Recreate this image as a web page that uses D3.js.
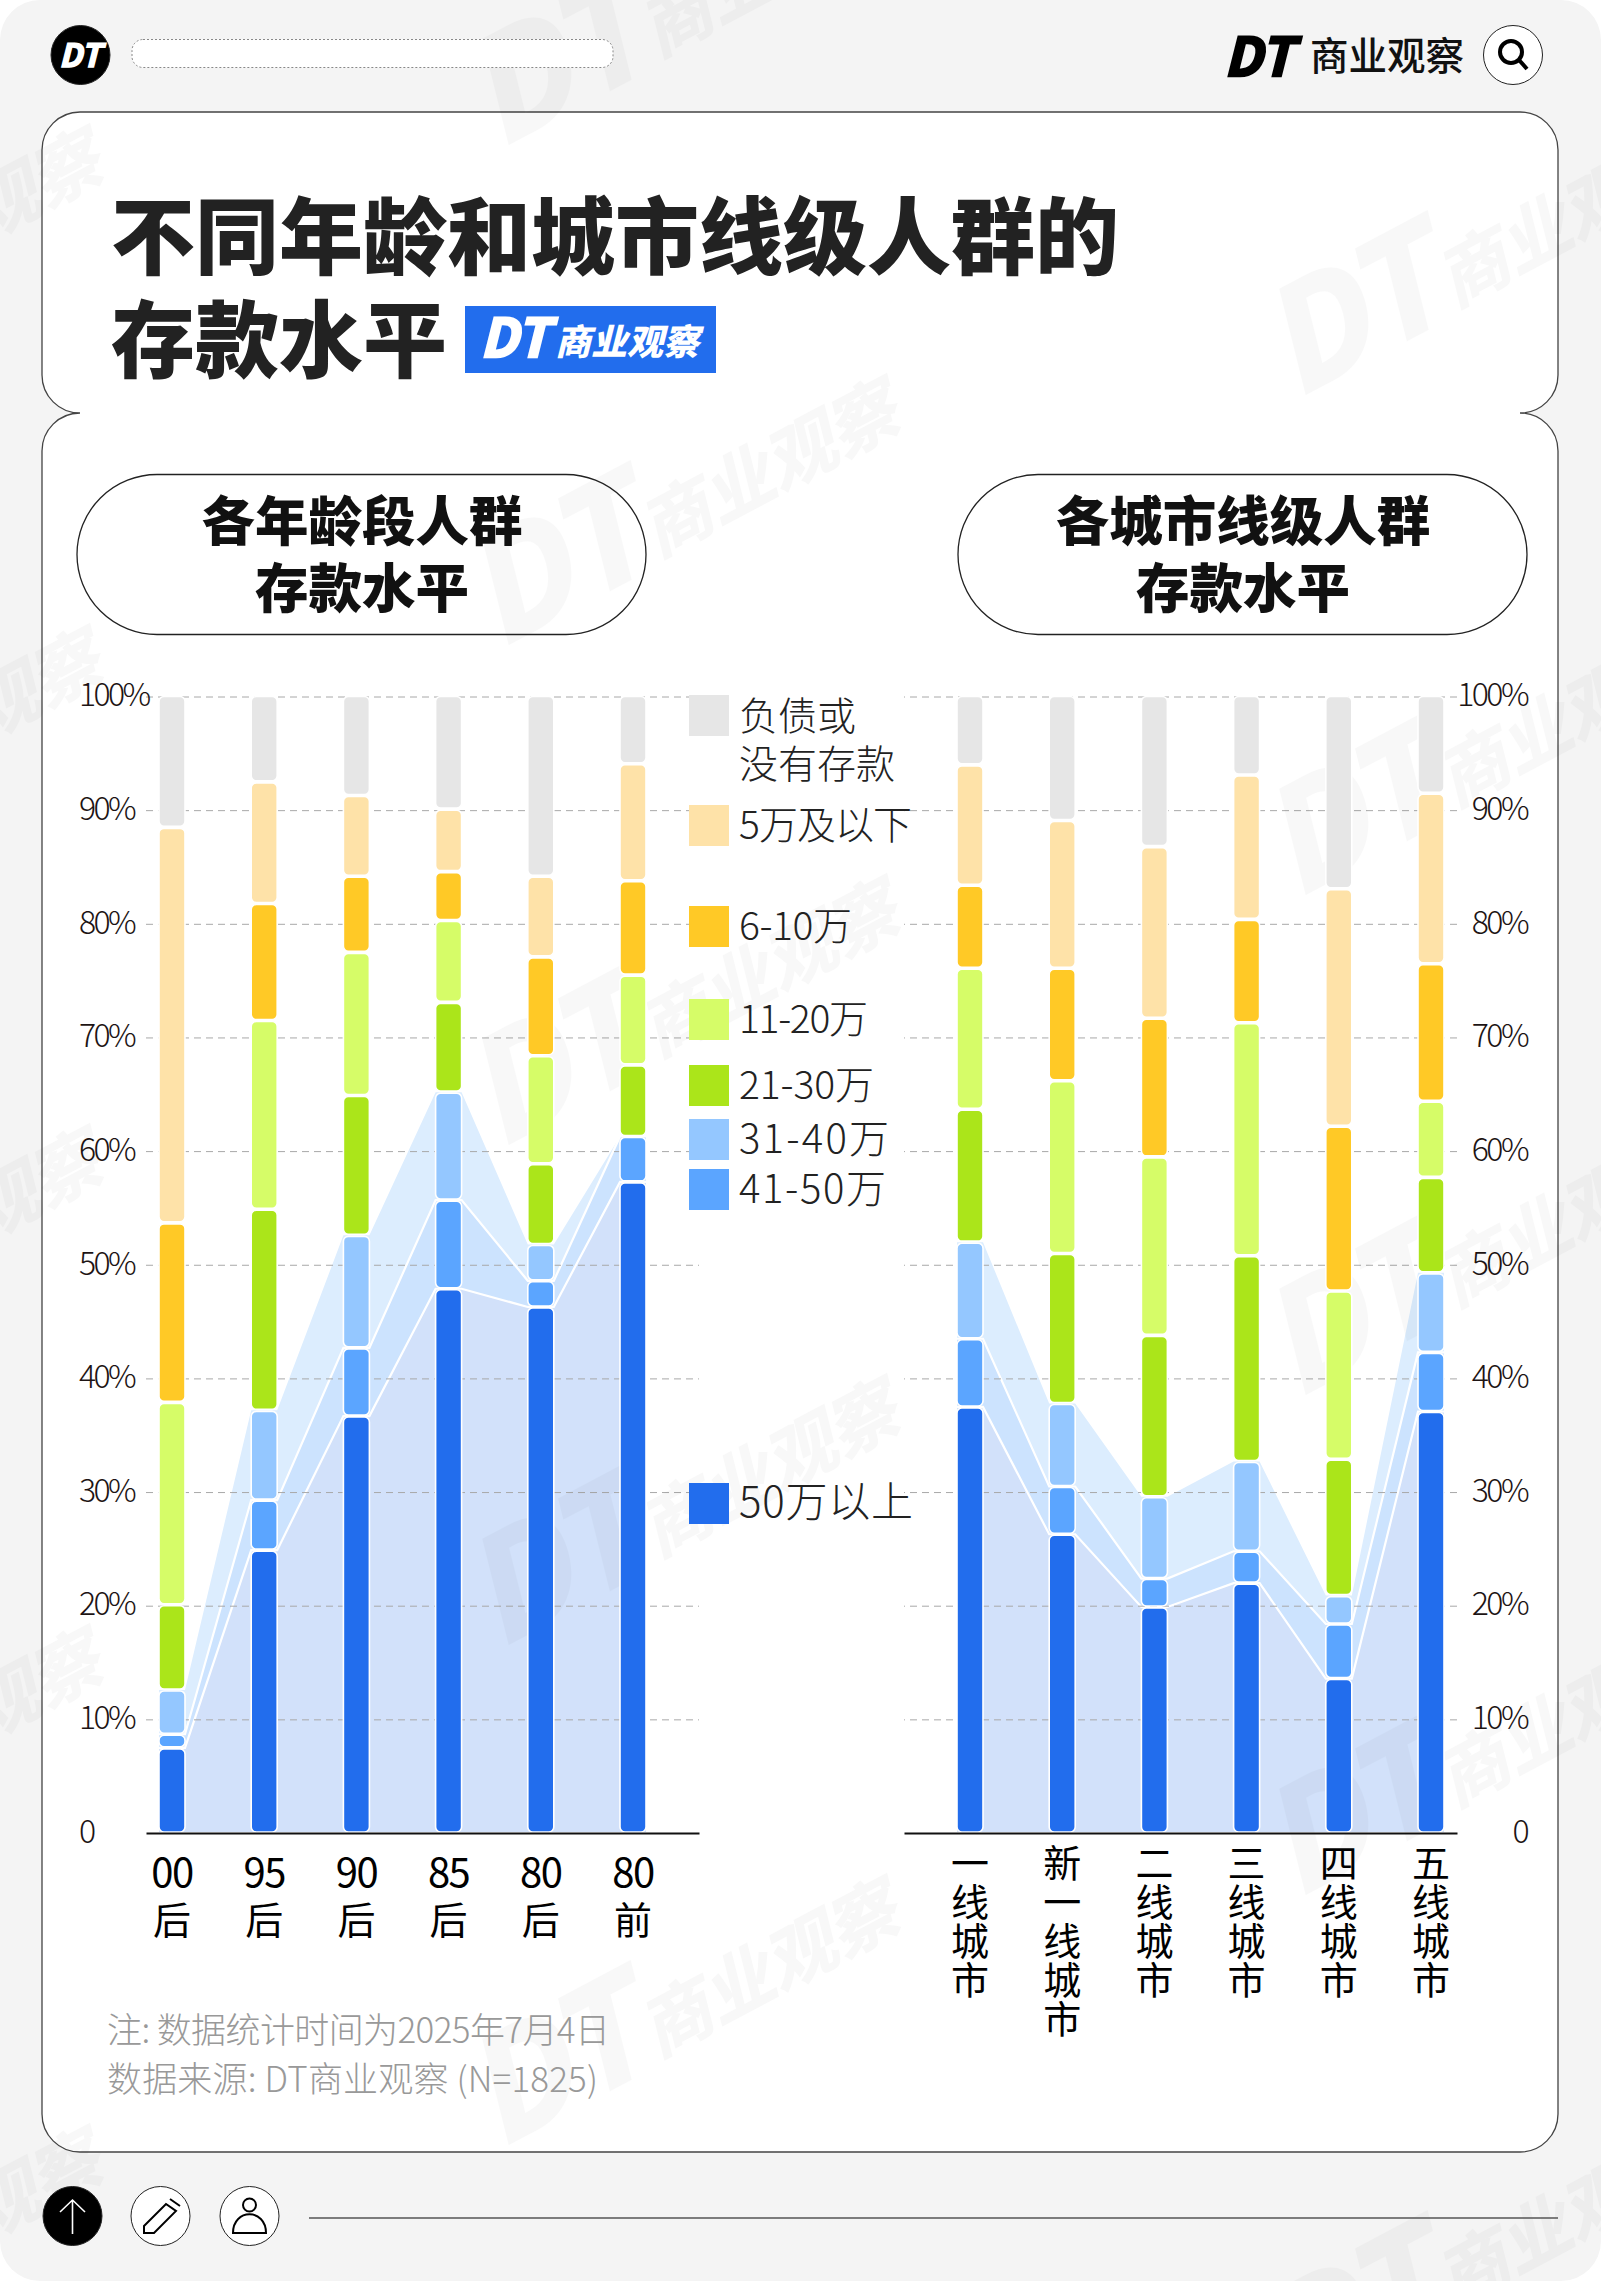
<!DOCTYPE html>
<html>
<head>
<meta charset="utf-8">
<script src="https://cdn.jsdelivr.net/npm/d3@7"></script>
<style>
  html, body { margin: 0; padding: 0; background: #fff; }
  svg { display: block; }
  text { font-family: "Noto Sans CJK SC", "Noto Sans", sans-serif; }
</style>
</head>
<body>
<svg id="chart" width="1601" height="2281"></svg>
<script>
// categories
var ageGroups = ["00后", "95后", "90后", "85后", "80后", "80前"];
var cityTiers = ["一线城市", "新一线城市", "二线城市", "三线城市", "四线城市", "五线城市"];
var seriesNames = ["50万以上", "41-50万", "31-40万", "21-30万", "11-20万", "6-10万", "5万及以下", "负债或没有存款"];

// share by age group, one list per saving level, % of people
var age50Up = [7.4, 24.8, 36.6, 47.8, 46.2, 57.2];
var age41to50 = [1.2, 4.4, 6.0, 7.8, 2.3, 4.0];
var age31to40 = [3.9, 7.9, 9.9, 9.5, 3.2, 0];
var age21to30 = [7.5, 17.7, 12.3, 7.9, 7.1, 6.3];
var age11to20 = [17.8, 16.6, 12.6, 7.2, 9.5, 7.9];
var age6to10 = [15.8, 10.3, 6.7, 4.3, 8.7, 8.3];
var age5Down = [34.8, 10.7, 7.1, 5.5, 7.1, 10.3];
var ageNone = [11.6, 7.6, 8.8, 10.0, 15.9, 6.0];

// share by city tier
var city50Up = [37.4, 26.2, 19.8, 21.9, 13.5, 37.0];
var city41to50 = [6.0, 4.2, 2.5, 2.8, 4.8, 5.2];
var city31to40 = [8.5, 7.3, 7.2, 7.9, 2.5, 7.0];
var city21to30 = [11.7, 13.2, 14.2, 18.1, 12.0, 8.4];
var city11to20 = [12.4, 15.2, 15.7, 20.5, 14.8, 6.7];
var city6to10 = [7.3, 9.9, 12.2, 9.1, 14.5, 12.1];
var city5Down = [10.6, 13.0, 15.1, 12.7, 20.9, 15.0];
var cityNone = [6.1, 11.0, 13.3, 7.0, 17.0, 8.6];

var yTicks = [0, 10, 20, 30, 40, 50, 60, 70, 80, 90, 100];

var seriesColors = ["#226ded", "#5ba5ff", "#94c7ff", "#abe51a", "#d6fc68", "#ffc926", "#fee2a8", "#e6e6e6"];
var areaColors = ["#d2e1fa", "#cce3fe", "#dcedfe"];

var CJK = '"Noto Sans CJK SC", "Noto Sans", sans-serif';
var LOGO = '"Liberation Sans", Arial, sans-serif';

var svg = d3.select("#chart");

// page + card
svg.append("rect").attr("width", 1601).attr("height", 2281).attr("rx", 40).attr("fill", "#f4f4f4");
svg.append("path")
  .attr("d", "M80,112 H1520 A38,38 0 0 1 1558,150 V375 A38,38 0 0 1 1520,413 A38,38 0 0 1 1558,451 V2114 A38,38 0 0 1 1520,2152 H80 A38,38 0 0 1 42,2114 V451 A38,38 0 0 1 80,413 A38,38 0 0 1 42,375 V150 A38,38 0 0 1 80,112 Z")
  .attr("fill", "#fff").attr("stroke", "#444").attr("stroke-width", 1.3);

var areaLayer = svg.append("g").attr("transform", "translate(0,-1)");
var gridLayer = svg.append("g");
var markLayer = svg.append("g").attr("class", "watermark");
var barLayer = svg.append("g");

function watermark(x, y) {
  var g = markLayer.append("g").attr("transform", "translate(" + x + "," + y + ") rotate(-28)")
    .attr("fill", "#000").attr("stroke", "#000").attr("opacity", 0.022);
  g.append("text").text("DT").attr("font-family", LOGO).attr("font-weight", 700)
    .attr("font-style", "italic").attr("font-size", 138).attr("stroke-width", 4);
  g.append("text").text("商业观察").attr("x", 182).attr("y", -6).attr("font-weight", 700)
    .attr("font-style", "italic").attr("font-size", 70).attr("stroke-width", 1);
}
d3.range(-1, 3).forEach(function(col) {
  var x0 = 499 + col * 797;
  var y0 = (col % 2 === 0) ? 648 : 398;
  d3.range(-2, 5).forEach(function(row) {
    var wy = y0 + row * 500;
    // skip the ones that fall wholly outside the page
    if (x0 + 440 < 0 || x0 > 1601 || wy + 30 < 0 || wy - 260 > 2281) return;
    watermark(x0, wy);
  });
});

// top bar
function circleBtn(cx, cy, fill) {
  svg.append("circle").attr("cx", cx).attr("cy", cy).attr("r", 29.5)
    .attr("fill", fill).attr("stroke", "#222").attr("stroke-width", 1);
}
circleBtn(80.5, 55, "#000");
svg.append("text").text("DT").attr("x", 80).attr("y", 67).attr("text-anchor", "middle")
  .attr("font-family", LOGO).attr("font-weight", 700).attr("font-style", "italic")
  .attr("font-size", 32).attr("fill", "#fff").attr("stroke", "#fff").attr("stroke-width", 1.5);
svg.append("rect").attr("x", 132).attr("y", 39.5).attr("width", 481).attr("height", 28).attr("rx", 11)
  .attr("fill", "#fff").attr("stroke", "#888").attr("stroke-width", 1).attr("stroke-dasharray", "2 2");
svg.append("text").text("DT").attr("x", 1224).attr("y", 76)
  .attr("font-family", LOGO).attr("font-weight", 700).attr("font-style", "italic")
  .attr("font-size", 53).attr("fill", "#000").attr("stroke", "#000").attr("stroke-width", 2.5);
svg.append("text").text("商业观察").attr("x", 1310).attr("y", 70)
  .attr("font-size", 38.5).attr("font-weight", 500).attr("fill", "#111");
circleBtn(1513, 55, "#fff");
svg.append("circle").attr("cx", 1511).attr("cy", 52).attr("r", 11).attr("fill", "none")
  .attr("stroke", "#000").attr("stroke-width", 4);
svg.append("line").attr("x1", 1519).attr("y1", 60).attr("x2", 1527).attr("y2", 69)
  .attr("stroke", "#000").attr("stroke-width", 4);

// title
svg.append("text").text("不同年龄和城市线级人群的").attr("x", 111).attr("y", 268)
  .attr("font-size", 84).attr("font-weight", 900).attr("fill", "#222");
svg.append("text").text("存款水平").attr("x", 111).attr("y", 371)
  .attr("font-size", 84).attr("font-weight", 900).attr("fill", "#222");
svg.append("rect").attr("x", 465).attr("y", 306).attr("width", 251).attr("height", 67).attr("fill", "#226ded");
svg.append("text").text("DT").attr("x", 480).attr("y", 357)
  .attr("font-family", LOGO).attr("font-weight", 700).attr("font-style", "italic")
  .attr("font-size", 53).attr("fill", "#fff").attr("stroke", "#fff").attr("stroke-width", 2.5);
svg.append("text").text("商业观察").attr("x", 555).attr("y", 355)
  .attr("font-size", 36).attr("font-weight", 900).attr("font-style", "italic").attr("fill", "#fff");

// panel headers
function pill(x, line1, line2) {
  svg.append("rect").attr("x", x).attr("y", 474.5).attr("width", 569).attr("height", 160).attr("rx", 80)
    .attr("fill", "none").attr("stroke", "#222").attr("stroke-width", 1.3);
  var cx = x + 285;
  svg.append("text").text(line1).attr("x", cx).attr("y", 541).attr("text-anchor", "middle")
    .attr("font-size", 53.5).attr("font-weight", 900).attr("fill", "#111");
  svg.append("text").text(line2).attr("x", cx).attr("y", 608).attr("text-anchor", "middle")
    .attr("font-size", 53.5).attr("font-weight", 900).attr("fill", "#111");
}
pill(77, "各年龄段人群", "存款水平");
pill(958, "各城市线级人群", "存款水平");

var y = d3.scaleLinear().domain([0, 100]).range([1833, 696.5]);
var barWidth = 26;

function tickText(d) { return d === 0 ? "0" : d + "%"; }

function drawPanel(opts) {
  var x = d3.scalePoint().domain(opts.categories).range(opts.centers);

  // gridlines and tick labels through the y axis
  var axisY = opts.labelsRight ? d3.axisRight(y) : d3.axisLeft(y);
  var gridLen = opts.axisRange[1] - opts.axisRange[0];
  axisY.tickValues(yTicks).tickFormat(tickText).tickSize(-gridLen);
  var gY = gridLayer.append("g")
    .attr("transform", "translate(" + (opts.labelsRight ? opts.axisRange[1] : opts.axisRange[0]) + ",0)")
    .call(axisY);
  gY.select(".domain").remove();
  gY.selectAll(".tick line").attr("stroke", "#a8a8a8").attr("stroke-width", 1).attr("stroke-dasharray", "7 5")
    .filter(function(d) { return d === 0; }).remove();
  gY.selectAll(".tick text")
    .attr("font-family", CJK).attr("font-size", 32).attr("font-weight", 300).attr("fill", "#1d1414")
    .attr("letter-spacing", -2.6).attr("dy", "0.29em")
    .attr("text-anchor", opts.labelsRight ? "end" : "start")
    .attr("x", opts.labelsRight ? 1527 - opts.axisRange[1] : 79 - opts.axisRange[0]);

  // stack the levels
  var table = opts.categories.map(function(c, i) {
    var row = { category: c };
    seriesNames.forEach(function(name, k) { row[name] = opts.values[k][i]; });
    return row;
  });
  var stacked = d3.stack().keys(seriesNames)(table);

  // bands run flat across a bar and straight from bar edge to bar edge
  function edgePoints(s) {
    return s.reduce(function(pts, d) {
      var cx = x(d.data.category);
      pts.push({ x: cx - barWidth / 2, y0: d[0], y1: d[1] });
      pts.push({ x: cx + barWidth / 2, y0: d[0], y1: d[1] });
      return pts;
    }, []);
  }
  var band = d3.area()
    .x(function(p) { return p.x; })
    .y0(function(p) { return y(p.y0); })
    .y1(function(p) { return y(p.y1); });
  var topLine = d3.line()
    .x(function(p) { return p.x; })
    .y(function(p) { return y(p.y1); });
  stacked.slice(0, 3).forEach(function(s, k) {
    areaLayer.append("path").attr("d", band(edgePoints(s))).attr("fill", areaColors[k]);
  });
  stacked.slice(0, 2).forEach(function(s) {
    areaLayer.append("path").attr("d", topLine(edgePoints(s))).attr("fill", "none")
      .attr("stroke", "#fff").attr("stroke-width", 2.2);
  });

  // bars
  stacked.forEach(function(s, k) {
    barLayer.append("g").selectAll("rect").data(s).join("rect")
      .filter(function(d) { return d[1] > d[0]; })
      .attr("x", function(d) { return x(d.data.category) - barWidth / 2; })
      .attr("y", function(d) { return y(d[1]); })
      .attr("width", barWidth)
      .attr("height", function(d) { return Math.max(y(d[0]) - y(d[1]) - (k === 0 ? 1 : 2), 1); })
      .attr("rx", 5)
      .attr("fill", seriesColors[k])
      .attr("stroke", "#fff").attr("stroke-width", 1.6);
  });

  // x axis
  var baseScale = d3.scaleLinear().domain(opts.axisRange).range(opts.axisRange);
  var gX = gridLayer.append("g").attr("transform", "translate(0,1833)")
    .call(d3.axisBottom(baseScale).tickValues([]).tickSizeOuter(0));
  gX.select(".domain").attr("stroke", "#111").attr("stroke-width", 2.2);
  svg.node().appendChild(gX.node());

  // category labels
  opts.categories.forEach(function(c) { opts.drawLabel(c, x(c)); });
}

function ageLabel(c, cx) {
  svg.append("text").text(c.slice(0, 2)).attr("x", cx).attr("y", 1887).attr("text-anchor", "middle")
    .attr("font-size", 40).attr("letter-spacing", -1.5).attr("fill", "#000");
  svg.append("text").text(c.slice(2)).attr("x", cx).attr("y", 1934).attr("text-anchor", "middle")
    .attr("font-size", 38).attr("fill", "#000");
}

function cityLabel(c, cx) {
  c.split("").forEach(function(ch, i) {
    svg.append("text").text(ch).attr("x", cx).attr("y", 1877 + i * 39).attr("text-anchor", "middle")
      .attr("font-size", 38).attr("fill", "#000");
  });
}

drawPanel({
  categories: ageGroups,
  values: [age50Up, age41to50, age31to40, age21to30, age11to20, age6to10, age5Down, ageNone],
  centers: [172, 633],
  axisRange: [146, 699],
  labelsRight: false,
  drawLabel: ageLabel
});

drawPanel({
  categories: cityTiers,
  values: [city50Up, city41to50, city31to40, city21to30, city11to20, city6to10, city5Down, cityNone],
  centers: [970, 1431],
  axisRange: [904, 1457],
  labelsRight: true,
  drawLabel: cityLabel
});

// legend, top to bottom
var legendTops = [695, 805, 906, 999, 1065, 1119, 1169, 1483];
var legendTextWidths = [0, 173, 113, 129, 135, 150, 147, 174];
var legendFontSizes = [39, 39, 39, 39, 39, 40, 40, 42];
var legendOrder = d3.range(seriesNames.length).reverse();
legendOrder.forEach(function(k, i) {
  var top = legendTops[i];
  svg.append("rect").attr("x", 689).attr("y", top).attr("width", 40).attr("height", 41)
    .attr("fill", seriesColors[k]);
  var name = seriesNames[k];
  if (name === "负债或没有存款") {
    svg.append("text").text("负债或").attr("x", 739).attr("y", 730)
      .attr("font-size", 39).attr("font-weight", 300).attr("fill", "#222");
    svg.append("text").text("没有存款").attr("x", 739).attr("y", 778)
      .attr("font-size", 39).attr("font-weight", 300).attr("fill", "#222");
  } else {
    svg.append("text").text(name).attr("x", 739).attr("y", top + 34)
      .attr("textLength", legendTextWidths[i]).attr("lengthAdjust", "spacing")
      .attr("font-size", legendFontSizes[i]).attr("font-weight", 300).attr("fill", "#222");
  }
});

// footnote
svg.append("text").text("注: 数据统计时间为2025年7月4日").attr("x", 107).attr("y", 2043)
  .attr("textLength", 503).attr("lengthAdjust", "spacing")
  .attr("font-size", 35).attr("font-weight", 300).attr("fill", "#999");
svg.append("text").text("数据来源: DT商业观察 (N=1825)").attr("x", 107).attr("y", 2092)
  .attr("textLength", 491).attr("lengthAdjust", "spacing")
  .attr("font-size", 35).attr("font-weight", 300).attr("fill", "#999");

// bottom icons
circleBtn(72.5, 2216, "#000");
svg.append("path").attr("d", "M72.5,2234 V2200 M60,2212 L72.5,2200 L85,2212")
  .attr("fill", "none").attr("stroke", "#fff").attr("stroke-width", 1.6);
circleBtn(160.5, 2216, "#fff");
svg.append("path").attr("d", "M144,2226 L166,2204 L176,2211 L154,2233 L144,2233 Z M170,2199 L180,2206")
  .attr("fill", "none").attr("stroke", "#000").attr("stroke-width", 2);
circleBtn(249.5, 2216, "#fff");
svg.append("circle").attr("cx", 249.5).attr("cy", 2205).attr("r", 6.5).attr("fill", "none")
  .attr("stroke", "#000").attr("stroke-width", 2);
svg.append("path").attr("d", "M233,2233 C233,2208 266,2208 266,2233 Z")
  .attr("fill", "none").attr("stroke", "#000").attr("stroke-width", 2);
svg.append("line").attr("x1", 309).attr("y1", 2218).attr("x2", 1558).attr("y2", 2218)
  .attr("stroke", "#555").attr("stroke-width", 1.5);
</script>
</body>
</html>
